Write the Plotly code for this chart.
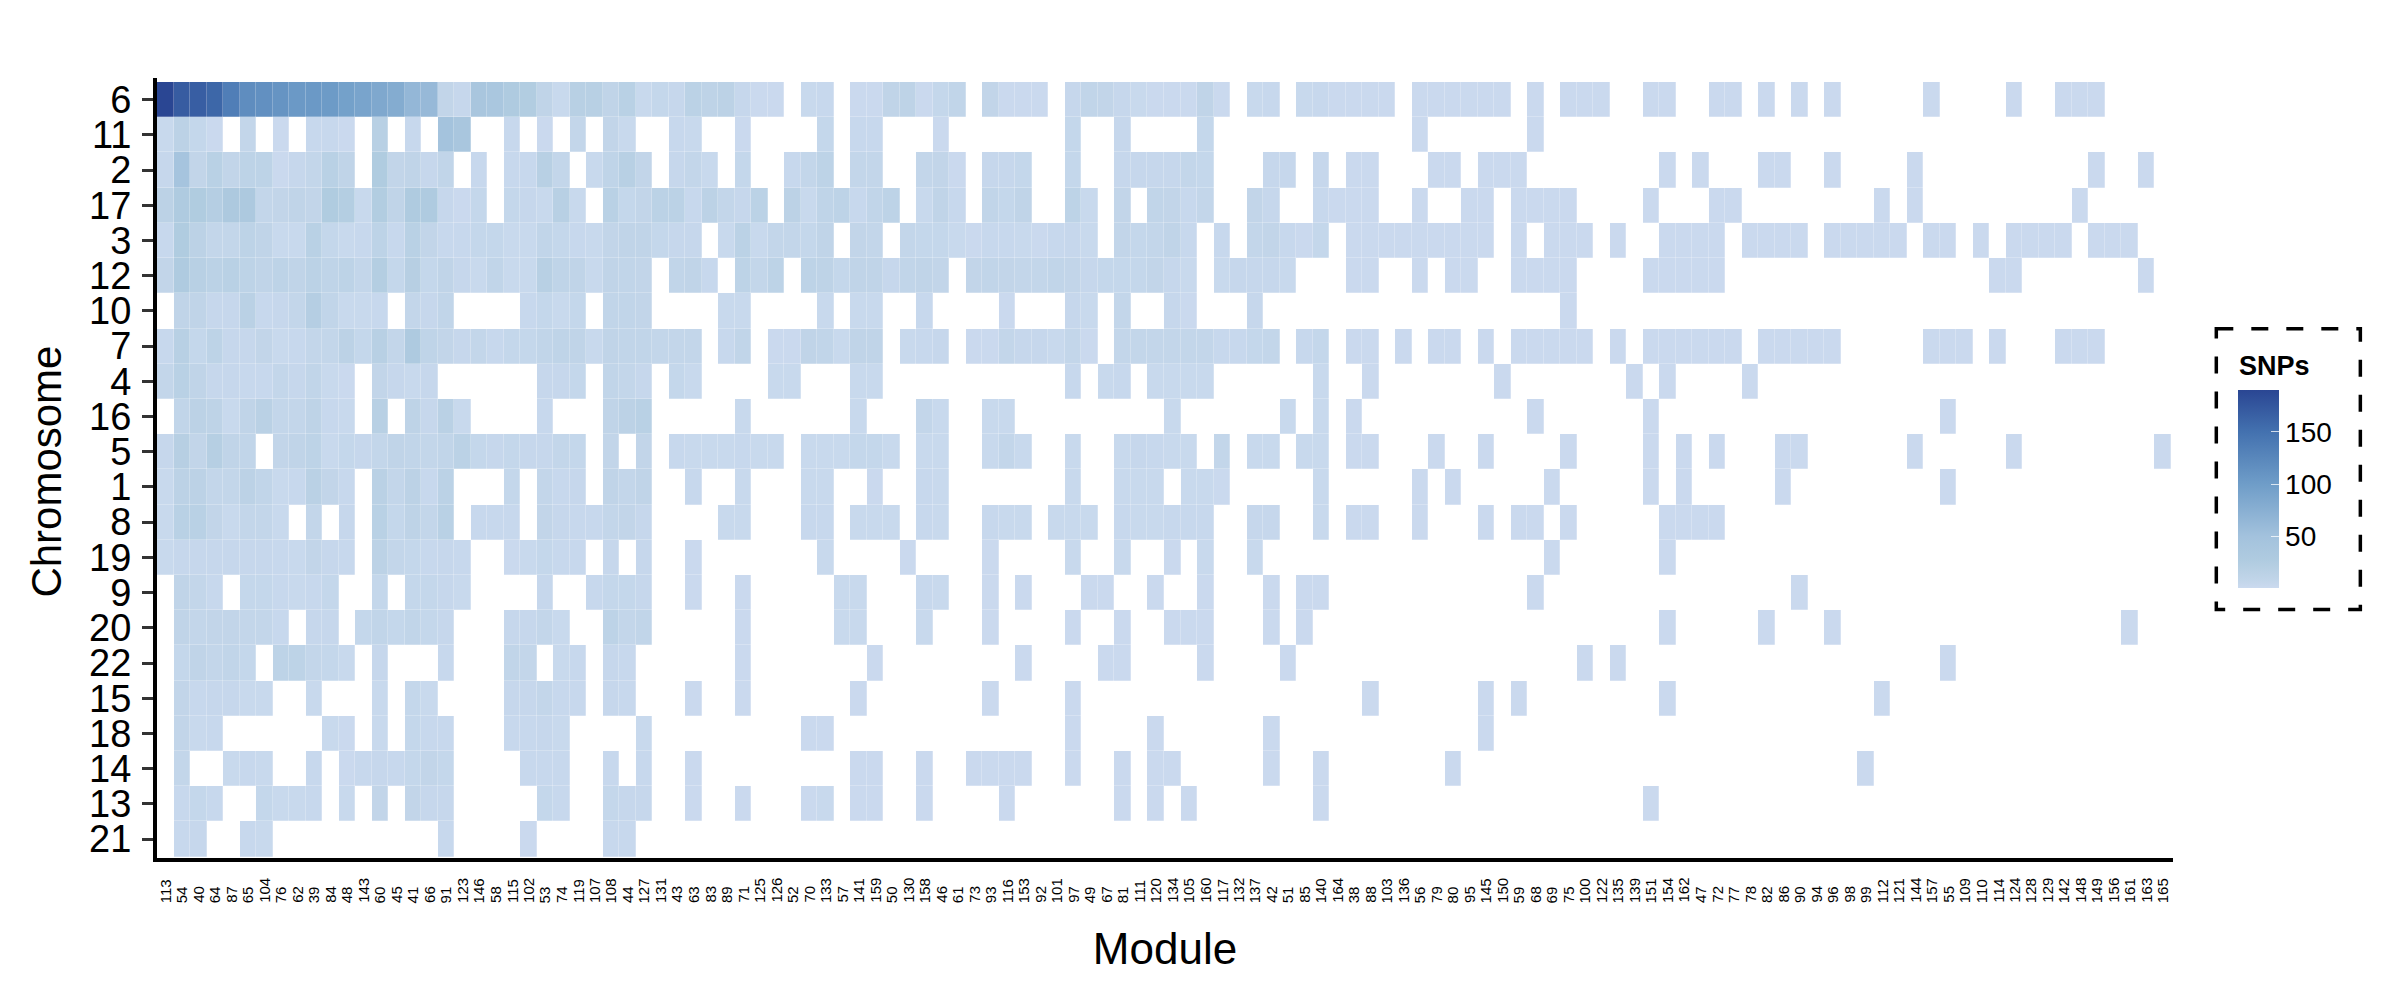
import plotly.graph_objects as go

modules = """113 54 40 64 87 65 104 76 62 39 84 48 143 60 45 41 66 91 123 146 58 115 102 53 74 119 107 108 44 127 131 43 63 83 89 71 125 126 52 70 133 57 141 159 50 130 158 46 61 73 93 116 153 92 101 97 49 67 81 111 120 134 105 160 117 132 137 42 51 85 140 164 38 88 103 136 56 79 80 95 145 150 59 68 69 75 100 122 135 139 151 154 162 47 72 77 78 82 86 90 94 96 98 99 112 121 144 157 55 109 110 114 124 128 129 142 148 149 156 161 163 165""".split()
chromosomes = ["6","11","2","17","3","12","10","7","4","16","5","1","8","19","9","20","22","15","18","14","13","21"]

# first 35 modules (0 = no SNPs)
d6=[190,170,168,160,135,118,115,110,105,105,102,95,90,85,80,65,62,8,5,40,38,28,25,10,3,18,18,10,17,3,6,5,15,12,14]
d11=[3,14,6,2,0,7,0,2,0,4,4,2,0,18,0,4,0,48,40,0,0,4,0,2,0,7,0,8,3,0,0,4,3,0,0]
d2=[5,45,8,17,8,13,13,2,5,7,17,10,0,27,8,10,5,9,0,4,0,4,4,18,7,0,3,11,19,8,0,5,7,3,0]
d17=[14,28,27,22,32,32,7,8,10,8,27,23,3,25,10,28,28,5,2,6,0,6,5,3,18,3,0,17,6,8,15,15,4,14,7]
d3=[4,27,14,7,7,13,10,3,3,17,6,3,4,13,4,17,8,4,4,6,6,3,3,9,6,4,3,8,10,10,6,5,5,0,3]
d12=[8,28,19,15,17,13,10,13,10,15,11,13,7,23,6,20,6,10,5,3,9,3,3,18,11,10,3,10,9,8,0,9,10,4,0]
d10=[0,10,10,5,5,16,4,5,7,22,9,3,3,4,0,7,5,9,0,0,0,0,4,6,3,6,0,9,9,8,0,0,0,0,3]
d7=[4,19,6,13,5,5,8,3,4,7,7,14,6,18,7,30,11,8,5,7,4,6,6,9,11,10,3,10,9,9,7,7,7,0,4]
d4=[7,17,10,5,5,4,4,7,5,9,3,2,0,8,5,3,5,0,0,0,0,0,0,5,5,6,0,9,7,5,0,6,3,0,0]
d16=[0,9,14,12,3,10,16,7,7,12,4,3,0,18,0,12,5,16,3,0,0,0,0,4,0,0,0,10,14,17,0,0,0,0,0]
d5=[5,20,8,21,10,9,0,8,10,13,3,6,5,7,10,9,7,9,15,6,5,6,5,5,7,6,0,8,0,8,0,4,3,3,3]
d1=[3,14,14,7,7,14,9,3,4,16,8,4,0,16,7,14,4,15,0,0,0,6,0,7,4,5,0,10,7,10,0,0,4,0,0]
d8=[3,17,17,8,3,7,7,3,0,7,0,5,0,17,6,12,7,17,0,4,4,4,0,8,5,4,4,7,8,5,0,0,0,0,3]
d19=[3,5,5,5,5,5,5,4,3,8,5,4,0,14,7,6,4,5,4,0,0,2,3,6,4,4,0,5,0,5,0,0,2,0,0]
d9=[0,10,7,4,0,6,6,4,3,4,6,0,0,6,0,6,6,5,3,0,0,0,0,5,0,0,4,6,6,5,0,0,2,0,0]
d20=[0,10,7,8,8,7,7,4,0,5,5,0,6,9,6,9,6,5,0,0,0,5,5,7,3,0,0,13,7,9,0,0,0,0,0]
d22=[0,6,10,7,9,6,0,13,13,7,6,3,0,5,0,0,0,4,0,0,0,9,7,0,3,4,0,5,4,0,0,0,0,0,0]
d15=[0,8,4,5,5,3,3,0,0,3,0,0,0,3,0,6,3,0,0,0,0,5,5,7,4,4,0,5,4,0,0,0,2,0,0]
d18=[0,8,3,4,0,0,0,0,0,0,3,2,0,3,0,6,4,4,0,0,0,4,4,5,3,0,0,0,0,3,0,0,0,0,0]
d14=[0,7,0,0,3,4,3,0,0,4,0,2,4,5,4,6,8,6,0,0,0,0,4,4,4,0,0,4,0,4,0,0,2,0,0]
d13=[0,4,6,4,0,0,6,3,3,4,0,3,0,8,0,8,5,5,0,0,0,0,0,6,4,0,0,6,5,5,0,0,2,0,0]
d21=[0,4,5,0,0,4,3,0,0,0,0,0,0,0,0,0,0,4,0,0,0,0,2,0,0,0,0,4,4,0,0,0,0,0,0]
dense=[d6,d11,d2,d17,d3,d12,d10,d7,d4,d16,d5,d1,d8,d19,d9,d20,d22,d15,d18,d14,d13,d21]

# modules 35-70: column position -> SNP count
m6={35:5,36:2,37:2,39:3,40:4,42:2,43:2,44:10,45:12,46:2,47:6,48:9,50:8,51:2,52:2,53:2,55:5,56:9,57:8,58:5,59:3,60:2,61:2,62:2,63:10,64:2,66:3,67:4,69:3,70:4}
m11={35:2,40:6,42:4,43:4,47:2,55:6,58:5,63:6}
m2={35:6,38:4,39:7,40:13,42:7,43:7,46:7,47:8,48:2,50:5,51:5,52:6,55:6,58:5,59:5,60:5,61:5,62:7,63:6,67:5,68:5,70:5}
m17={35:5,36:15,38:14,39:3,40:11,41:13,42:4,43:9,44:13,46:3,47:10,48:4,50:9,51:6,52:10,55:13,56:3,58:8,60:9,61:8,62:4,63:7,66:8,67:5,70:4}
m3={35:15,36:3,37:7,38:7,39:6,40:10,42:8,43:7,45:7,46:6,47:6,48:3,49:2,50:4,51:4,52:3,53:2,54:4,55:5,56:3,58:8,59:6,60:7,61:10,62:4,64:4,66:7,67:8,68:4,69:2,70:6}
m12={35:13,36:7,37:13,39:13,40:12,41:6,42:10,43:10,44:5,45:9,46:10,47:8,49:8,50:9,51:8,52:7,53:7,54:9,55:8,56:5,57:6,58:6,59:6,60:8,61:5,62:3,64:3,65:5,66:5,67:5,68:3}
m10={35:3,40:3,42:3,43:3,46:4,51:2,55:5,56:3,58:7,61:5,62:2,66:5}
m7={35:9,37:2,38:2,39:10,40:9,41:3,42:10,43:10,45:3,46:4,47:5,49:2,50:2,51:7,52:5,53:5,54:3,55:7,56:2,58:7,59:7,60:7,61:7,62:7,63:7,64:4,65:4,66:6,67:7,69:4,70:6}
m4={37:3,38:3,42:3,43:3,55:4,57:3,58:4,60:3,61:3,62:3,63:3,70:3}
m16={35:3,42:3,46:7,47:3,50:3,51:3,61:3,68:3,70:3}
m5={35:4,36:3,37:3,39:3,40:3,41:3,42:6,43:6,44:3,46:3,47:3,50:3,51:7,52:3,55:3,58:3,59:5,60:4,61:3,62:3,64:7,66:3,67:3,69:3,70:3}
m1={35:3,39:3,40:3,43:2,46:4,47:3,55:3,58:3,59:3,60:3,62:3,63:3,64:2,70:3}
m8={35:3,39:4,40:4,42:3,43:3,44:3,46:4,47:3,50:4,51:3,52:3,54:3,55:3,56:3,58:4,59:3,60:3,61:4,62:4,63:4,66:5,67:5,70:3}
m19={40:3,45:2,50:2,55:3,58:3,61:2,63:3,66:3}
m9={35:2,41:3,42:3,46:4,47:3,50:2,52:2,56:2,57:2,60:2,63:2,67:2,69:2,70:2}
m20={35:2,41:3,42:3,46:3,50:2,55:2,58:2,61:2,62:2,63:2,67:2,69:2}
m22={35:2,43:2,52:2,57:2,58:2,63:2,68:2}
m15={35:2,42:2,50:2,55:2}
m18={39:2,40:2,55:2,60:2,67:2}
m14={42:2,43:2,46:2,49:2,50:2,51:2,52:2,55:2,58:2,60:2,61:2,67:2,70:2}
m13={35:2,39:2,40:3,42:2,43:2,46:2,51:2,58:2,60:2,62:2,70:2}
m21={}
middle=[m6,m11,m2,m17,m3,m12,m10,m7,m4,m16,m5,m1,m8,m19,m9,m20,m22,m15,m18,m14,m13,m21]

# remaining modules: column positions holding the palest (about 2 SNPs) cells
f6=[71,72,73,74,76,77,78,79,80,81,83,85,86,87,90,91,94,95,97,99,101,107,112,115,116,117]
f11=[76,83]
f2=[72,73,77,78,80,81,82,91,93,97,98,101,106,117,120]
f17=[71,72,73,76,79,80,82,83,84,85,90,94,95,104,106,116]
f3=[72,73,74,75,76,77,78,79,80,82,84,85,86,88,91,92,93,94,96,97,98,99,101,102,103,104,105,107,108,110,112,113,114,115,117,118,119]
f12=[72,73,76,78,79,82,83,84,85,90,91,92,93,94,111,112,120]
f10=[85]
f7=[72,73,75,77,78,80,82,83,84,85,86,88,90,91,92,93,94,95,97,98,99,100,101,107,108,109,111,115,116,117]
f4=[73,81,89,91,96]
f16=[72,83,90,108]
f5=[72,73,77,80,85,90,92,94,98,99,106,112,121]
f1=[76,78,84,90,92,98,108]
f8=[72,73,76,80,82,83,85,91,92,93,94]
f19=[84,91]
f9=[83,99]
f20=[91,97,101,119]
f22=[86,88,108]
f15=[73,80,82,91,104]
f18=[80]
f14=[78,103]
f13=[90]
f21=[]
far=[f6,f11,f2,f17,f3,f12,f10,f7,f4,f16,f5,f1,f8,f19,f9,f20,f22,f15,f18,f14,f13,f21]
FAR_VALUE=2

z=[]
for dn,md,fr in zip(dense,middle,far):
    row=[None]*len(modules)
    for i,v in enumerate(dn):
        if v: row[i]=v
    for i,v in md.items(): row[i]=v
    for i in fr: row[i]=FAR_VALUE
    z.append(row)

colorbar_ticks=[50,100,150]
ZMIN,ZMAX=1,190

# pixel frame of the plot area
L,R,T,B=157.2,2172.7,78.3,858.0
W,H=R-L,B-T
FONT="Liberation Sans"
px=lambda x:(x-L)/W
py=lambda y:(B-y)/H

colorscale=[[0,"#cbdaef"],[0.04,"#c1d5e9"],[0.07,"#bcd2e6"],[0.143,"#afcbe0"],[0.26,"#a3c2dd"],
            [0.524,"#6f9dc8"],[0.79,"#4371af"],[1,"#2a4693"]]

fig=go.Figure(go.Heatmap(
    z=z,x=modules,y=chromosomes,zmin=ZMIN,zmax=ZMAX,colorscale=colorscale,xgap=0.25,ygap=0.25,
    hoverongaps=False,
    colorbar=dict(thickness=41,thicknessmode="pixels",len=197.7,lenmode="pixels",
        x=px(2238),xanchor="left",y=py(390),yanchor="top",xpad=0,ypad=0,outlinewidth=0,
        tickmode="array",tickvals=colorbar_ticks,ticks="inside",ticklen=8,tickwidth=1,
        tickcolor="rgba(255,255,255,0.75)",tickprefix="\u00a0",
        tickfont=dict(family=FONT,size=28,color="black")),
))

annotations=[dict(text=m,x=i,xref="x",y=py(904),yref="paper",yanchor="bottom",xanchor="center",
    textangle=-90,showarrow=False,borderpad=0,font=dict(family=FONT,size=15,color="black")) for i,m in enumerate(modules)]
annotations.append(dict(text="<b>SNPs</b>",x=px(2238),xref="paper",y=py(366),yref="paper",xanchor="left",
    yanchor="middle",showarrow=False,borderpad=0,font=dict(family=FONT,size=27,color="black")))
annotations.append(dict(text="Chromosome",x=px(47),xref="paper",y=py(472),yref="paper",xanchor="center",
    yanchor="middle",textangle=-90,showarrow=False,borderpad=0,font=dict(family=FONT,size=42,color="black")))

shapes=[dict(type="rect",xref="paper",yref="paper",x0=px(2216),x1=px(2360),y0=py(329),y1=py(609.7),
    line=dict(color="black",width=3.5,dash="17px,18px"),layer="above")]
for v in colorbar_ticks:
    yy=587.7-(v-ZMIN)/(ZMAX-ZMIN)*197.7
    shapes.append(dict(type="line",xref="paper",yref="paper",x0=px(2238),x1=px(2246),y0=py(yy),y1=py(yy),
        line=dict(color="rgba(255,255,255,0.75)",width=1),layer="above"))

fig.update_layout(
    width=2400,height=1000,margin=dict(l=L,r=2400-R,t=T,b=1000-B,autoexpand=False),
    paper_bgcolor="white",plot_bgcolor="white",font=dict(family=FONT,color="black"),
    annotations=annotations,shapes=shapes,
    xaxis=dict(type="category",categoryorder="array",categoryarray=modules,range=[-0.5,121.5+2/16.5],
        showgrid=False,zeroline=False,showticklabels=False,ticks="",showline=True,linewidth=4,linecolor="black",
        title=dict(text="Module",font=dict(family=FONT,size=44,color="black"),standoff=73),automargin=False),
    yaxis=dict(type="category",categoryorder="array",categoryarray=chromosomes,range=[21.5+1.3/35.2,-0.5-4/35.2],
        tickmode="array",tickvals=chromosomes,ticktext=chromosomes,
        showgrid=False,zeroline=False,ticks="outside",ticklen=11,tickwidth=3,tickcolor="#333333",
        showline=True,linewidth=4,linecolor="black",ticklabelstandoff=3,
        tickfont=dict(family=FONT,size=38,color="black"),automargin=False),
)
fig.write_html("out.html",post_script="document.body.style.margin='0';",config=dict(displayModeBar=False))
